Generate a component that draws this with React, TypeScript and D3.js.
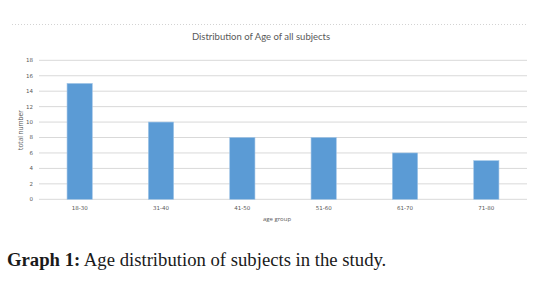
import React from "react";
import * as d3 from "d3";

const categories = ["18-30", "31-40", "41-50", "51-60", "61-70", "71-80"];
const values = [15, 10, 8, 8, 6, 5];
const yTicks = [0, 2, 4, 6, 8, 10, 12, 14, 16, 18];

const W = 533;
const H = 291;

export default function App() {
  const x = d3.scaleBand<string>().domain(categories).range([39, 527]).paddingInner(0.69).paddingOuter(0.345);
  const y = d3.scaleLinear().domain([0, 18]).range([199.3, 60.3]);
  const grey = "#595959";
  return (
    <svg width={W} height={H} style={{ position: "absolute", left: 0, top: 0, background: "#fff" }}>
      <line x1={12} x2={528} y1={24.5} y2={24.5} stroke="#c8c8c8" strokeWidth={0.8} strokeDasharray="1 2" />
      <text x={261} y={39.5} textAnchor="middle" fontFamily="Lato, 'Open Sans', sans-serif" fontSize={9.5} fill={grey}>
        Distribution of Age of all subjects
      </text>
      {yTicks.map((t) => (
        <g key={t}>
          <line x1={39} x2={527} y1={y(t)} y2={y(t)} stroke="#d9d9d9" strokeWidth={1} />
          <text x={33} y={y(t)} dy="0.35em" textAnchor="end" fontFamily="'DejaVu Sans', sans-serif" fontSize={5.5} fill={grey}>
            {t}
          </text>
        </g>
      ))}
      {categories.map((c, i) => (
        <g key={c}>
          <rect
            x={x(c)!}
            y={y(values[i])}
            width={x.bandwidth()}
            height={y(0) - y(values[i])}
            fill="#5b9bd5"
            stroke="#9dc3e6"
            strokeWidth={0.6}
          />
          <text x={x(c)! + x.bandwidth() / 2} y={208} dy="0.35em" textAnchor="middle" fontFamily="'DejaVu Sans', sans-serif" fontSize={5.5} fill={grey}>
            {c}
          </text>
        </g>
      ))}
      <text
        transform={`translate(21,130) rotate(-90)`}
        textAnchor="middle"
        dy="0.35em"
        fontFamily="'Open Sans', sans-serif"
        fontSize={6.5}
        fill={grey}
      >
        total number
      </text>
      <text x={277} y={219} dy="0.35em" textAnchor="middle" fontFamily="'Open Sans', sans-serif" fontSize={6} fill={grey}>
        age group
      </text>
      <text x={7} y={266} fontFamily="'Liberation Serif', 'DejaVu Serif', serif" fontSize={18.7} fill="#1a1a1a">
        <tspan fontWeight="bold">Graph 1:</tspan> Age distribution of subjects in the study.
      </text>
    </svg>
  );
}
